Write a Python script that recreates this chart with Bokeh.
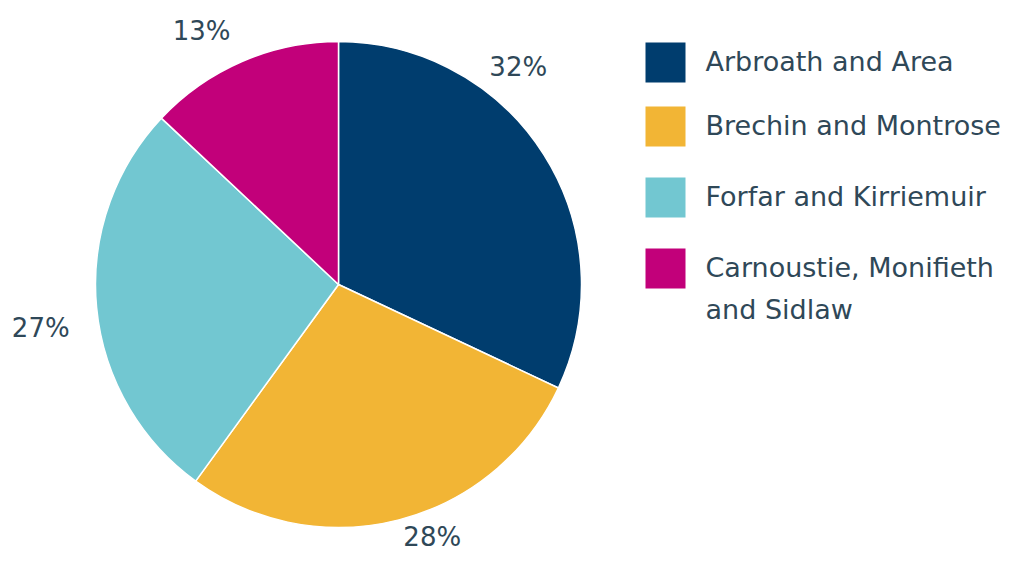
import math
from bokeh.plotting import figure
from bokeh.models import Range1d, ColumnDataSource
from bokeh.core.properties import value
from bokeh.embed import file_html
from bokeh.resources import INLINE

categories = ["Arbroath and Area", "Brechin and Montrose", "Forfar and Kirriemuir", "Carnoustie, Monifieth\nand Sidlaw"]
shares = [32, 28, 27, 13]
colors = ["#003D6E", "#F2B535", "#72C7D1", "#C2007A"]

W, H = 1010, 554
FONT = "DejaVu Sans"
TXT = "#2F4858"

p = figure(width=W, height=H, x_range=Range1d(0, W), y_range=Range1d(0, H),
           output_backend="svg", toolbar_location=None, min_border=0)
p.axis.visible = False
p.grid.visible = False
p.outline_line_color = None
p.background_fill_color = "white"

cx, cy, R = 338, 270, 243
total = sum(shares)
starts, ends = [], []
acc = 0.0
for s in shares:
    a0 = math.pi / 2 - 2 * math.pi * acc / total
    acc += s
    a1 = math.pi / 2 - 2 * math.pi * acc / total
    starts.append(a0)
    ends.append(a1)

src = ColumnDataSource(dict(start=starts, end=ends, color=colors))
p.wedge(x=cx, y=cy, radius=R, start_angle="start", end_angle="end", direction="clock",
        fill_color="color", line_color="white", line_width=1.5, source=src)

# data labels (outside end, with Excel-like nudges)
label_nudge_deg = [18, 6, 3, 5]
label_r = [282, 269, 301, 288]
lx, ly, lt = [], [], []
for i, s in enumerate(shares):
    mid = (starts[i] + ends[i]) / 2 + math.radians(label_nudge_deg[i])
    lx.append(cx + label_r[i] * math.cos(mid))
    ly.append(cy + label_r[i] * math.sin(mid))
    lt.append(f"{s}%")
p.text(x=lx, y=ly, text=lt, text_font=value(FONT), text_font_size="26px",
       text_color=TXT, text_align="center", text_baseline="middle")

# legend
leg_y = [492, 428, 357, 286]
p.rect(x=[665] * 4, y=leg_y, width=40, height=40, fill_color=colors, line_color=None)
ty = [leg_y[0] + 1, leg_y[1] + 1, leg_y[2] + 1, leg_y[3] - 20]
p.text(x=[705] * 4, y=ty, text=categories, text_font=value(FONT), text_font_size="27px",
       text_color=TXT, text_align="left", text_baseline="middle", text_line_height=1.33)

open("out.html", "w").write(file_html(p, INLINE))
